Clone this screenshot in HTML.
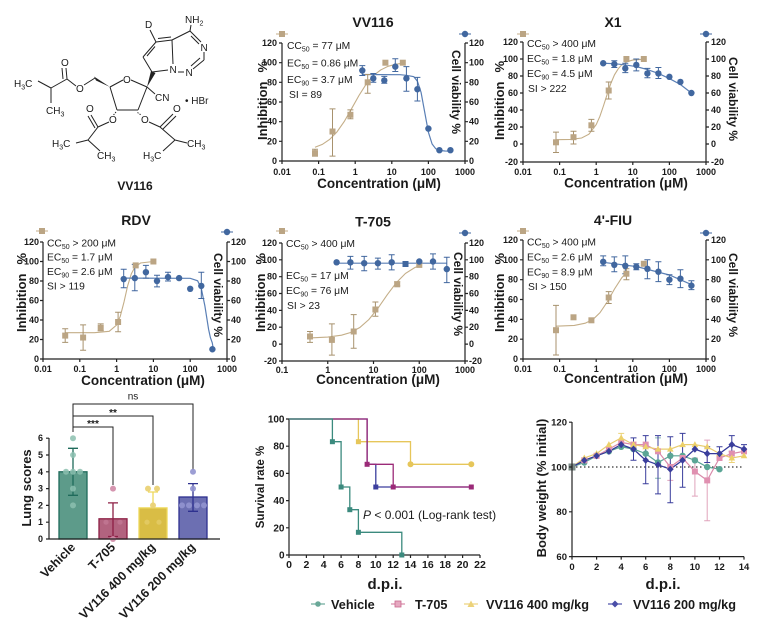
<!DOCTYPE html>
<html><head><meta charset="utf-8">
<style>
html,body{margin:0;padding:0;background:#fff;}
svg{display:block;}
text{font-family:"Liberation Sans",Arial,sans-serif;fill:#1a1a1a;}
.tk{font-size:9px;font-weight:bold;}
.tk2{font-size:10px;font-weight:bold;}
.ttl{font-size:14px;font-weight:bold;}
.lab{font-size:13px;font-weight:bold;}
.cv{font-size:12px;font-weight:bold;}
.con{font-size:13.5px;font-weight:bold;}
.ann{font-size:10.3px;}
.sub{font-size:7px;}
.st{font-size:10px;}
.ax{stroke:#222;stroke-width:1.2;fill:none;}
.tn{stroke:#c4ae88;stroke-width:1.1;fill:none;}
.bl{stroke:#5a7fb5;stroke-width:1.2;fill:none;}
.te{stroke:#a8926e;stroke-width:1;fill:none;}
.be{stroke:#41679f;stroke-width:1;fill:none;}
.bd{stroke:#222;stroke-width:1;fill:none;}
</style></head>
<body>
<svg width="757" height="627" viewBox="0 0 757 627" xmlns="http://www.w3.org/2000/svg">
<defs>
<rect id="sq" x="-3" y="-3" width="6" height="6"/>
<circle id="ci" r="3.2"/>
<path id="tri" d="M0,-3.5L3.3,2.5H-3.3Z"/>
<path id="dia" d="M0,-3.6L3.3,0L0,3.6L-3.3,0Z"/>
</defs>
<rect width="757" height="627" fill="#fff"/>

<!-- ============ Chemical structure ============ -->
<g class="bd">
<path d="M156,42L172,40M156,42L143,57M155,46.5L147,56M143,57L152,72M152,72L168,70M173,64L172,40M158,38.5L171,37"/>
<path d="M172,40L190,31M190,31L201,42M191,36L199,44M204,52V60M204,60L193,69M200,58L191,66M178,72H184M190,31L191,25M156,42L150,30"/>
<path d="M110,87L123,80M131,80L147,87M147,87L138,110M138,110L117,110M117,110L110,87M147,87L155,94"/>
<path d="M116,112L113.5,115M137.5,112.5L141,115" stroke-dasharray="1.3,1.2"/>
<path d="M95,78L84,85M76,86L67,79M67,79L66,68M63,79L62,68M67,79L51,88M51,88L38,81M51,88V103"/>
<path d="M109,122L98,127M98,127L91,115M95,128L88,116M98,127L88,140M88,140L76,143M88,140L100,151"/>
<path d="M149,122L160,127M160,127L173,114M163,129L176,116M160,127L175,140M175,140L187,143M175,140L163,151"/>
</g>
<polygon points="110,87 94,76.5 96,80.5" fill="#222"/>
<polygon points="147,87 151,71 155.5,73" fill="#222"/>
<g class="st">
<text x="145" y="28">D</text>
<text x="185" y="23">NH<tspan class="sub" dy="2.5">2</tspan></text>
<text x="200.5" y="51">N</text>
<text x="169.5" y="73">N</text>
<text x="185.5" y="76">N</text>
<text x="123" y="83">O</text>
<text x="155" y="101">CN</text>
<text x="185" y="104">• HBr</text>
<text x="61" y="66">O</text>
<text x="76" y="92">O</text>
<text x="14" y="87">H<tspan class="sub" dy="2.5">3</tspan><tspan dy="-2.5">C</tspan></text>
<text x="46" y="114">CH<tspan class="sub" dy="2.5">3</tspan></text>
<text x="109" y="123">O</text>
<text x="86" y="112">O</text>
<text x="52" y="147">H<tspan class="sub" dy="2.5">3</tspan><tspan dy="-2.5">C</tspan></text>
<text x="97" y="159">CH<tspan class="sub" dy="2.5">3</tspan></text>
<text x="141" y="123">O</text>
<text x="173" y="112">O</text>
<text x="187" y="147">CH<tspan class="sub" dy="2.5">3</tspan></text>
<text x="143" y="159">H<tspan class="sub" dy="2.5">3</tspan><tspan dy="-2.5">C</tspan></text>
</g>
<text x="135" y="190" text-anchor="middle" style="font-size:12px;font-weight:bold">VV116</text>

<!-- ============ Panel VV116 ============ -->
<text class="ttl" x="373" y="27" text-anchor="middle">VV116</text>
<path class="ax" d="M282,43V161H465V43"/>
<path class="ax" d="M279,161H282M279,141.3H282M279,121.7H282M279,102H282M279,82.3H282M279,62.7H282M279,43H282M465,161H468M465,141.3H468M465,121.7H468M465,102H468M465,82.3H468M465,62.7H468M465,43H468M282,161V164M318.6,161V164M355.2,161V164M391.8,161V164M428.4,161V164M465,161V164"/>
<g class="tk" text-anchor="end"><text x="277" y="164">0</text><text x="277" y="144.3">20</text><text x="277" y="124.7">40</text><text x="277" y="105">60</text><text x="277" y="85.3">80</text><text x="277" y="65.7">100</text><text x="277" y="46">120</text></g>
<g class="tk"><text x="469" y="164">0</text><text x="469" y="144.3">20</text><text x="469" y="124.7">40</text><text x="469" y="105">60</text><text x="469" y="85.3">80</text><text x="469" y="65.7">100</text><text x="469" y="46">120</text></g>
<g class="tk" text-anchor="middle"><text x="282" y="175">0.01</text><text x="318.6" y="175">0.1</text><text x="355.2" y="175">1</text><text x="391.8" y="175">10</text><text x="428.4" y="175">100</text><text x="465" y="175">1000</text></g>
<text class="con" x="379" y="188" text-anchor="middle">Concentration (μM)</text>
<text class="lab" transform="translate(267,140) rotate(-90)">Inhibition<tspan dx="9">%</tspan></text>
<text class="cv" transform="translate(452,50) rotate(90)">Cell viability %</text>
<path d="M276,34H288" stroke="#c4ae88" stroke-width="1"/><use href="#sq" x="282" y="34" fill="#bba584"/>
<path d="M459,34H471" stroke="#41679f" stroke-width="1"/><use href="#ci" x="465" y="34" fill="#41679f"/>
<g class="ann">
<text x="287" y="49">CC<tspan class="sub" dy="2.5">50</tspan><tspan dy="-2.5"> = 77 μM</tspan></text>
<text x="287" y="66.5">EC<tspan class="sub" dy="2.5">50</tspan><tspan dy="-2.5"> = 0.86 μM</tspan></text>
<text x="287" y="83">EC<tspan class="sub" dy="2.5">90</tspan><tspan dy="-2.5"> = 3.7 μM</tspan></text>
<text x="289" y="98">SI = 89</text>
</g>
<polyline class="tn" points="315,147.3 322.3,144.4 329.6,139.5 336.9,132 344.2,121.6 351.5,108.8 358.9,95.6 366.2,84.1 373.5,75.5 380.8,69.9 388.1,66.3 395.5,64.3 402.8,63.2"/>
<polyline class="bl" points="362.2,74.5 400,74.7 406.4,75.3 413.8,76.7 417.4,81.2 421.1,92.5 424.7,112.1 428.4,132.2 432.1,144 435.7,148.7 439.4,150.4 444.9,151 450.4,151.2"/>
<path class="te" d="M315,156.1V149.2M312,156.1h6M312,149.2h6M332.5,156.1V108.9M329.5,156.1h6M329.5,108.9h6M350.4,118.7V109.9M347.4,118.7h6M347.4,109.9h6M367.7,93.2V74.5M364.7,93.2h6M364.7,74.5h6"/>
<path class="be" d="M362.3,75.5V65.6M359.3,75.5h6M359.3,65.6h6M373.3,82.3V73.5M370.3,82.3h6M370.3,73.5h6M384.3,83.3V76.4M381.3,83.3h6M381.3,76.4h6M395.3,71.5V58.7M392.3,71.5h6M392.3,58.7h6M406.4,91.2V66.6M403.4,91.2h6M403.4,66.6h6M417.4,101V77.4M414.4,101h6M414.4,77.4h6"/>
<g fill="#bba584"><use href="#sq" x="315" y="153.1"/><use href="#sq" x="332.5" y="131.5"/><use href="#sq" x="350.4" y="114.8"/><use href="#sq" x="367.7" y="82.3"/><use href="#sq" x="385.4" y="62.7"/><use href="#sq" x="402.8" y="62.7"/></g>
<g fill="#41679f"><use href="#ci" x="362.3" y="70.5"/><use href="#ci" x="373.3" y="78.4"/><use href="#ci" x="384.3" y="80.4"/><use href="#ci" x="395.3" y="66.6"/><use href="#ci" x="406.4" y="78.4"/><use href="#ci" x="417.4" y="89.2"/><use href="#ci" x="428.4" y="128.6"/><use href="#ci" x="439.4" y="150.2"/><use href="#ci" x="450.4" y="150.2"/></g>

<!-- ============ Panel X1 ============ -->
<text class="ttl" x="613" y="27" text-anchor="middle">X1</text>
<path class="ax" d="M523,42V162H706V42"/>
<path class="ax" d="M520,162H523M520,144H523M520,127H523M520,110H523M520,93H523M520,76H523M520,59H523M520,42H523M706,162H709M706,144H709M706,127H709M706,110H709M706,93H709M706,76H709M706,59H709M706,42H709M523,162V165M559.6,162V165M596.2,162V165M632.8,162V165M669.4,162V165M706,162V165"/>
<g class="tk" text-anchor="end"><text x="518" y="165">-20</text><text x="518" y="147">0</text><text x="518" y="130">20</text><text x="518" y="113">40</text><text x="518" y="96">60</text><text x="518" y="79">80</text><text x="518" y="62">100</text><text x="518" y="45">120</text></g>
<g class="tk"><text x="711" y="165">-20</text><text x="711" y="147">0</text><text x="711" y="130">20</text><text x="711" y="113">40</text><text x="711" y="96">60</text><text x="711" y="79">80</text><text x="711" y="62">100</text><text x="711" y="45">120</text></g>
<g class="tk" text-anchor="middle"><text x="523" y="175">0.01</text><text x="559.6" y="175">0.1</text><text x="596.2" y="175">1</text><text x="632.8" y="175">10</text><text x="669.4" y="175">100</text><text x="706" y="175">1000</text></g>
<text class="con" x="626" y="187.5" text-anchor="middle">Concentration (μM)</text>
<text class="lab" transform="translate(504,140) rotate(-90)">Inhibition<tspan dx="9">%</tspan></text>
<text class="cv" transform="translate(729,57) rotate(90)">Cell viability %</text>
<path d="M517,34H529" stroke="#c4ae88" stroke-width="1"/><use href="#sq" x="523" y="34" fill="#bba584"/>
<path d="M700,34H712" stroke="#41679f" stroke-width="1"/><use href="#ci" x="706" y="34" fill="#41679f"/>
<g class="ann">
<text x="527" y="47">CC<tspan class="sub" dy="2.5">50</tspan><tspan dy="-2.5"> &gt; 400 μM</tspan></text>
<text x="527" y="62">EC<tspan class="sub" dy="2.5">50</tspan><tspan dy="-2.5"> = 1.8 μM</tspan></text>
<text x="527" y="77">EC<tspan class="sub" dy="2.5">90</tspan><tspan dy="-2.5"> = 4.5 μM</tspan></text>
<text x="528" y="92">SI &gt; 222</text>
</g>
<polyline class="tn" points="556,139.7 570.6,139.4 581.6,138 588.9,134.2 596.2,124.6 599.9,116.3 603.5,105.75 607.2,94.2 610.8,83.5 614.5,74.8 618.2,68.8 621.8,64.8 627.3,61.55 632.8,60.1 643.8,59.2"/>
<polyline class="bl" points="603.2,63.25 614.5,63.7 625.5,64.95 636.5,66.65 647.4,69.6 658.4,73.45 669.4,78.55 680.4,84.5 691.4,93"/>
<path class="te" d="M556,152.5V132.1M553,152.5h6M553,132.1h6M573.5,144V131.3M570.5,144h6M570.5,131.3h6M591.4,131.3V119.4M588.4,131.3h6M588.4,119.4h6M608.7,99V82M605.7,99h6M605.7,82h6"/>
<path class="be" d="M614.3,67.5V60.7M611.3,67.5h6M611.3,60.7h6M625.3,72.6V63.25M622.3,72.6h6M622.3,63.25h6M636.3,70.9V59M633.3,70.9h6M633.3,59h6M647.4,77.7V68.35M644.4,77.7h6M644.4,68.35h6M658.4,78.55V67.5M655.4,78.55h6M655.4,67.5h6"/>
<g fill="#bba584"><use href="#sq" x="556" y="142.3"/><use href="#sq" x="573.5" y="137.2"/><use href="#sq" x="591.4" y="125.3"/><use href="#sq" x="608.7" y="90.5"/><use href="#sq" x="626.4" y="59"/><use href="#sq" x="643.8" y="59"/></g>
<g fill="#41679f"><use href="#ci" x="603.2" y="63.25"/><use href="#ci" x="614.3" y="64.1"/><use href="#ci" x="625.3" y="68.35"/><use href="#ci" x="636.3" y="64.95"/><use href="#ci" x="647.4" y="73.45"/><use href="#ci" x="658.4" y="73.45"/><use href="#ci" x="669.4" y="76.85"/><use href="#ci" x="680.4" y="81.95"/><use href="#ci" x="691.4" y="93"/></g>

<!-- ============ Panel RDV ============ -->
<text class="ttl" x="136" y="225" text-anchor="middle">RDV</text>
<path class="ax" d="M43,242V359H227V242"/>
<path class="ax" d="M40,359H43M40,339.5H43M40,320H43M40,300.5H43M40,281H43M40,261.5H43M40,242H43M227,359H230M227,339.5H230M227,320H230M227,300.5H230M227,281H230M227,261.5H230M227,242H230M43,359V362M79.8,359V362M116.6,359V362M153.4,359V362M190.2,359V362M227,359V362"/>
<g class="tk" text-anchor="end"><text x="39" y="362">0</text><text x="39" y="342.5">20</text><text x="39" y="323">40</text><text x="39" y="303.5">60</text><text x="39" y="284">80</text><text x="39" y="264.5">100</text><text x="39" y="245">120</text></g>
<g class="tk"><text x="231" y="362">0</text><text x="231" y="342.5">20</text><text x="231" y="323">40</text><text x="231" y="303.5">60</text><text x="231" y="284">80</text><text x="231" y="264.5">100</text><text x="231" y="245">120</text></g>
<g class="tk" text-anchor="middle"><text x="43" y="372">0.01</text><text x="79.8" y="372">0.1</text><text x="116.6" y="372">1</text><text x="153.4" y="372">10</text><text x="190.2" y="372">100</text><text x="227" y="372">1000</text></g>
<text class="con" x="143" y="385" text-anchor="middle">Concentration (μM)</text>
<text class="lab" transform="translate(26,332) rotate(-90)">Inhibition<tspan dx="9">%</tspan></text>
<text class="cv" transform="translate(214,253) rotate(90)">Cell viability %</text>
<path d="M36,231H48" stroke="#c4ae88" stroke-width="1"/><use href="#sq" x="42" y="231" fill="#bba584"/>
<path d="M221,232H233" stroke="#41679f" stroke-width="1"/><use href="#ci" x="227" y="232" fill="#41679f"/>
<g class="ann">
<text x="47" y="246.5">CC<tspan class="sub" dy="2.5">50</tspan><tspan dy="-2.5"> &gt; 200 μM</tspan></text>
<text x="47" y="260.5">EC<tspan class="sub" dy="2.5">50</tspan><tspan dy="-2.5"> = 1.7 μM</tspan></text>
<text x="47" y="275">EC<tspan class="sub" dy="2.5">90</tspan><tspan dy="-2.5"> = 2.6 μM</tspan></text>
<text x="47" y="289.5">SI &gt; 119</text>
</g>
<polyline class="tn" points="65.1,332.7 94.5,332.7 109.2,331.3 116.6,325.1 120.3,316.2 124,302 127.6,286 131.3,273.8 135,267 140.5,263 153.4,261.5"/>
<polyline class="bl" points="123.6,278.1 190.2,278.3 197.6,280.8 201.2,288 204.9,306 208.6,329.4 210.4,337.6 212.3,342.9 213,347.3"/>
<path class="te" d="M65.2,342.4V328.8M62.2,342.4h6M62.2,328.8h6M83.1,350.2V324.9M80.1,350.2h6M80.1,324.9h6M100.7,330.7V323.9M97.7,330.7h6M97.7,323.9h6M118.1,331.7V312.2M115.1,331.7h6M115.1,312.2h6"/>
<path class="be" d="M123.7,287.8V269.3M120.7,287.8h6M120.7,269.3h6M134.8,290.75V264.4M131.8,290.75h6M131.8,264.4h6M145.9,278.1V265.4M142.9,278.1h6M142.9,265.4h6M157,286.9V275.2M154,286.9h6M154,275.2h6M168,281V272.2M165,281h6M165,272.2h6M201.3,298.55V272.2M198.3,298.55h6M198.3,272.2h6"/>
<g fill="#bba584"><use href="#sq" x="65.2" y="335.6"/><use href="#sq" x="83.1" y="337.55"/><use href="#sq" x="100.7" y="327.8"/><use href="#sq" x="118.1" y="322"/><use href="#sq" x="135.7" y="265.4"/><use href="#sq" x="153.4" y="261.5"/></g>
<g fill="#41679f"><use href="#ci" x="123.7" y="279.05"/><use href="#ci" x="134.8" y="278.1"/><use href="#ci" x="145.9" y="272.2"/><use href="#ci" x="157" y="281"/><use href="#ci" x="168" y="277.1"/><use href="#ci" x="179.1" y="278.1"/><use href="#ci" x="190.2" y="288.8"/><use href="#ci" x="201.3" y="285.9"/><use href="#ci" x="212.4" y="349.25"/></g>

<!-- ============ Panel T-705 ============ -->
<text class="ttl" x="373" y="226.5" text-anchor="middle">T-705</text>
<path class="ax" d="M282,243V361H465V243"/>
<path class="ax" d="M279,361H282M279,344.1H282M279,327.2H282M279,310.4H282M279,293.5H282M279,276.7H282M279,259.8H282M279,243H282M465,361H468M465,344.1H468M465,327.2H468M465,310.4H468M465,293.5H468M465,276.7H468M465,259.8H468M465,243H468M282,361V364M327.75,361V364M373.5,361V364M419.25,361V364M465,361V364"/>
<g class="tk" text-anchor="end"><text x="277" y="364">-20</text><text x="277" y="347.1">0</text><text x="277" y="330.2">20</text><text x="277" y="313.4">40</text><text x="277" y="296.5">60</text><text x="277" y="279.7">80</text><text x="277" y="262.8">100</text><text x="277" y="246">120</text></g>
<g class="tk"><text x="469" y="364">-20</text><text x="469" y="347.1">0</text><text x="469" y="330.2">20</text><text x="469" y="313.4">40</text><text x="469" y="296.5">60</text><text x="469" y="279.7">80</text><text x="469" y="262.8">100</text><text x="469" y="246">120</text></g>
<g class="tk" text-anchor="middle"><text x="282" y="373">0.1</text><text x="327.75" y="373">1</text><text x="373.5" y="373">10</text><text x="419.25" y="373">100</text><text x="465" y="373">1000</text></g>
<text class="con" x="378" y="384" text-anchor="middle">Concentration (μM)</text>
<text class="lab" transform="translate(265,332) rotate(-90)">Inhibition<tspan dx="9">%</tspan></text>
<text class="cv" transform="translate(454,252) rotate(90)">Cell viability %</text>
<path d="M276,231H288" stroke="#c4ae88" stroke-width="1"/><use href="#sq" x="282" y="231" fill="#bba584"/>
<path d="M459,233H471" stroke="#41679f" stroke-width="1"/><use href="#ci" x="465" y="233" fill="#41679f"/>
<g class="ann">
<text x="286" y="247">CC<tspan class="sub" dy="2.5">50</tspan><tspan dy="-2.5"> &gt; 400 μM</tspan></text>
<text x="286" y="279">EC<tspan class="sub" dy="2.5">50</tspan><tspan dy="-2.5"> = 17 μM</tspan></text>
<text x="286" y="294">EC<tspan class="sub" dy="2.5">90</tspan><tspan dy="-2.5"> = 76 μM</tspan></text>
<text x="287" y="309">SI &gt; 23</text>
</g>
<polyline class="tn" points="309.9,337.9 327.75,337.1 341.5,335.2 350.6,332.5 359.8,327.5 368.9,319.5 378.1,308 387.2,294.8 396.4,282.6 405.5,273.4 414.7,267.6 419.25,265.7"/>
<path class="bl" d="M336.6,263.2H446.8"/>
<path class="te" d="M310,342.4V331.5M307,342.4h6M307,331.5h6M331.9,355.1V323.9M328.9,355.1h6M328.9,323.9h6M353.7,348.3V314.6M350.7,348.3h6M350.7,314.6h6M375.4,316.3V302M372.4,316.3h6M372.4,302h6M397.2,285.9V281.7M394.2,285.9h6M394.2,281.7h6"/>
<path class="be" d="M350.4,269.1V256.4M347.4,269.1h6M347.4,256.4h6M364.2,270.8V256.4M361.2,270.8h6M361.2,256.4h6M377.9,269.1V258.1M374.9,269.1h6M374.9,258.1h6M391.7,269.9V254.7M388.7,269.9h6M388.7,254.7h6M433,269.1V253.9M430,269.1h6M430,253.9h6M446.8,282.6V257.3M443.8,282.6h6M443.8,257.3h6"/>
<g fill="#bba584"><use href="#sq" x="310" y="336.5"/><use href="#sq" x="331.9" y="339.9"/><use href="#sq" x="353.7" y="331.5"/><use href="#sq" x="375.4" y="309.5"/><use href="#sq" x="397.2" y="284.3"/><use href="#sq" x="419.3" y="264.9"/></g>
<g fill="#41679f"><use href="#ci" x="336.6" y="262.3"/><use href="#ci" x="350.4" y="262.3"/><use href="#ci" x="364.2" y="263.2"/><use href="#ci" x="377.9" y="263.2"/><use href="#ci" x="391.7" y="262.3"/><use href="#sq" x="405.5" y="264"/><use href="#ci" x="419.3" y="261.5"/><use href="#ci" x="433" y="261.5"/><use href="#ci" x="446.8" y="269.1"/></g>

<!-- ============ Panel 4'-FIU ============ -->
<text class="ttl" x="613" y="225" text-anchor="middle">4'-FIU</text>
<path class="ax" d="M523,240V359H706V240"/>
<path class="ax" d="M520,359H523M520,339.2H523M520,319.3H523M520,299.5H523M520,279.7H523M520,259.8H523M520,240H523M706,359H709M706,339.2H709M706,319.3H709M706,299.5H709M706,279.7H709M706,259.8H709M706,240H709M523,359V362M559.6,359V362M596.2,359V362M632.8,359V362M669.4,359V362M706,359V362"/>
<g class="tk" text-anchor="end"><text x="518" y="362">0</text><text x="518" y="342.2">20</text><text x="518" y="322.3">40</text><text x="518" y="302.5">60</text><text x="518" y="282.7">80</text><text x="518" y="262.8">100</text><text x="518" y="243">120</text></g>
<g class="tk"><text x="711" y="362">0</text><text x="711" y="342.2">20</text><text x="711" y="322.3">40</text><text x="711" y="302.5">60</text><text x="711" y="282.7">80</text><text x="711" y="262.8">100</text><text x="711" y="243">120</text></g>
<g class="tk" text-anchor="middle"><text x="523" y="372">0.01</text><text x="559.6" y="372">0.1</text><text x="596.2" y="372">1</text><text x="632.8" y="372">10</text><text x="669.4" y="372">100</text><text x="706" y="372">1000</text></g>
<text class="con" x="626" y="383" text-anchor="middle">Concentration (μM)</text>
<text class="lab" transform="translate(504,332) rotate(-90)">Inhibition<tspan dx="9">%</tspan></text>
<text class="cv" transform="translate(729,253) rotate(90)">Cell viability %</text>
<path d="M517,231H529" stroke="#c4ae88" stroke-width="1"/><use href="#sq" x="523" y="231" fill="#bba584"/>
<path d="M700,233H712" stroke="#41679f" stroke-width="1"/><use href="#ci" x="706" y="233" fill="#41679f"/>
<g class="ann">
<text x="527" y="245.5">CC<tspan class="sub" dy="2.5">50</tspan><tspan dy="-2.5"> &gt; 400 μM</tspan></text>
<text x="527" y="260.5">EC<tspan class="sub" dy="2.5">50</tspan><tspan dy="-2.5"> = 2.6 μM</tspan></text>
<text x="527" y="275.5">EC<tspan class="sub" dy="2.5">90</tspan><tspan dy="-2.5"> = 8.9 μM</tspan></text>
<text x="528" y="290">SI &gt; 150</text>
</g>
<polyline class="tn" points="556,326.2 574.3,325.4 585.2,323.2 592.9,319.5 599.9,312.8 607.2,302 614.5,289 621.8,277.7 627.3,271.7"/>
<polyline class="bl" points="603.2,262.3 636.3,266.5 669.4,275 691.4,284.6"/>
<path class="te" d="M556,355V305.4M553,355h6M553,305.4h6M608.7,303.5V291.6M605.7,303.5h6M605.7,291.6h6M626.4,279.7V268.8M623.4,279.7h6M623.4,268.8h6"/>
<path class="be" d="M603.2,265.8V255.9M600.2,265.8h6M600.2,255.9h6M614.3,271.7V256.9M611.3,271.7h6M611.3,256.9h6M625.3,273.7V255.9M622.3,273.7h6M622.3,255.9h6M636.3,269.7V263.8M633.3,269.7h6M633.3,263.8h6M647.4,278.7V259.8M644.4,278.7h6M644.4,259.8h6M658.4,281.6V261.8M655.4,281.6h6M655.4,261.8h6M669.4,284.6V274.7M666.4,284.6h6M666.4,274.7h6M680.4,287.6V269.7M677.4,287.6h6M677.4,269.7h6M691.4,289.6V280.7M688.4,289.6h6M688.4,280.7h6"/>
<g fill="#bba584"><use href="#sq" x="556" y="330.2"/><use href="#sq" x="573.5" y="317.3"/><use href="#sq" x="591.4" y="320.3"/><use href="#sq" x="608.7" y="297.5"/><use href="#sq" x="626.4" y="273.7"/><use href="#sq" x="643.8" y="263.8"/></g>
<g fill="#41679f"><use href="#ci" x="603.2" y="261.8"/><use href="#ci" x="614.3" y="264.8"/><use href="#ci" x="625.3" y="265.8"/><use href="#ci" x="636.3" y="266.8"/><use href="#ci" x="647.4" y="268.8"/><use href="#ci" x="658.4" y="271.7"/><use href="#ci" x="669.4" y="279.7"/><use href="#ci" x="680.4" y="278.7"/><use href="#ci" x="691.4" y="285.6"/></g>

<!-- ============ Lung scores ============ -->
<path class="bd" d="M73,432V404H193V470M73,416H153V485M73,427H113V485" stroke="#333"/>
<text x="133" y="399.5" text-anchor="middle" style="font-size:10px">ns</text>
<text x="113" y="416" text-anchor="middle" style="font-size:10px;font-weight:bold">**</text>
<text x="93" y="427" text-anchor="middle" style="font-size:10px;font-weight:bold">***</text>
<rect x="59" y="471.8" width="28" height="67.2" fill="#5d9b8a" stroke="#1f6b5b" stroke-width="1.3"/>
<rect x="99" y="518.8" width="28" height="20.2" fill="#b2637f" stroke="#8d1f45" stroke-width="1.3"/>
<rect x="139" y="507.9" width="28" height="31.1" fill="#d9bd45" stroke="#eed85a" stroke-width="1.3"/>
<rect x="179" y="497" width="28" height="42" fill="#6c6fb2" stroke="#2e318f" stroke-width="1.3"/>
<path d="M73,495.3V448.3M68,448.3H78M68,495.3H78" stroke="#1f6b5b" stroke-width="1.3" fill="none"/>
<path d="M113,536.5V502.9M108,502.9H118M108,536.5H118" stroke="#8d1f45" stroke-width="1.3" fill="none"/>
<path d="M153,507.9V492M148,492H158" stroke="#eed85a" stroke-width="1.3" fill="none"/>
<path d="M193,511.3V483.6M188,483.6H198M188,511.3H198" stroke="#2e318f" stroke-width="1.3" fill="none"/>
<g fill="#8cc0b0" opacity="0.85"><circle cx="73" cy="438.2" r="3"/><circle cx="73" cy="455" r="3"/><circle cx="66" cy="471.8" r="3"/><circle cx="73" cy="471.8" r="3"/><circle cx="80" cy="471.8" r="3"/><circle cx="73" cy="488.6" r="3"/><circle cx="73" cy="505.4" r="3"/></g>
<g fill="#d08aa6" opacity="0.9"><circle cx="113" cy="488.6" r="3"/><circle cx="113" cy="539" r="3"/><circle cx="106" cy="522.2" r="2.6" opacity="0.5"/><circle cx="120" cy="522.2" r="2.6" opacity="0.5"/></g>
<g fill="#ead277" opacity="0.95"><circle cx="148" cy="488.6" r="3"/><circle cx="157" cy="488.6" r="3"/><circle cx="153" cy="505.4" r="3"/><circle cx="147" cy="522.2" r="2.6" opacity="0.6"/><circle cx="159" cy="522.2" r="2.6" opacity="0.6"/></g>
<g fill="#9294d0" opacity="0.9"><circle cx="193" cy="471.8" r="3"/><circle cx="193" cy="488.6" r="3"/><circle cx="182" cy="505.4" r="3"/><circle cx="189" cy="505.4" r="3"/><circle cx="197" cy="505.4" r="3"/><circle cx="204" cy="505.4" r="3"/></g>
<path class="ax" d="M49,438V539H220M46,539H49M46,522.2H49M46,505.4H49M46,488.6H49M46,471.8H49M46,455H49M46,438.2H49"/>
<g class="tk" text-anchor="end"><text x="43" y="542">0</text><text x="43" y="525.2">1</text><text x="43" y="508.4">2</text><text x="43" y="491.6">3</text><text x="43" y="474.8">4</text><text x="43" y="458">5</text><text x="43" y="441.2">6</text></g>
<text class="lab" transform="translate(31,488) rotate(-90)" text-anchor="middle">Lung scores</text>
<g style="font-size:12.5px;font-weight:bold" text-anchor="end">
<text transform="translate(76,548) rotate(-45)">Vehicle</text>
<text transform="translate(116,548) rotate(-45)">T-705</text>
<text transform="translate(156,548) rotate(-45)">VV116 400 mg/kg</text>
<text transform="translate(196,548) rotate(-45)">VV116 200 mg/kg</text>
</g>

<!-- ============ Survival ============ -->
<path class="ax" d="M289,419V555H480M286,555H289M286,527.8H289M286,500.6H289M286,473.4H289M286,446.2H289M286,419H289M289,555V558M306.4,555V558M323.7,555V558M341.1,555V558M358.4,555V558M375.8,555V558M393.2,555V558M410.5,555V558M427.9,555V558M445.2,555V558M462.6,555V558M480,555V558"/>
<g class="tk2" text-anchor="end"><text x="284.5" y="558.5">0</text><text x="284.5" y="531.3">20</text><text x="284.5" y="504.1">40</text><text x="284.5" y="476.9">60</text><text x="284.5" y="449.7">80</text><text x="284.5" y="422.5">100</text></g>
<g class="tk2" text-anchor="middle" style="font-size:10.5px"><text x="289" y="568">0</text><text x="306.4" y="568">2</text><text x="323.7" y="568">4</text><text x="341.1" y="568">6</text><text x="358.4" y="568">8</text><text x="375.8" y="568">10</text><text x="393.2" y="568">12</text><text x="410.5" y="568">14</text><text x="427.9" y="568">16</text><text x="445.2" y="568">18</text><text x="462.6" y="568">20</text><text x="480" y="568">22</text></g>
<text transform="translate(264,487) rotate(-90)" text-anchor="middle" style="font-size:11.5px;font-weight:bold">Survival rate %</text>
<text x="385" y="589" text-anchor="middle" style="font-size:15px;font-weight:bold">d.p.i.</text>
<text x="363" y="519" style="font-size:12px"><tspan font-style="italic">P</tspan> &lt; 0.001 (Log-rank test)</text>
<path d="M289,419H358.4V441.7H410.5V464.3H471.3" stroke="#e6c65a" stroke-width="1.3" fill="none"/>
<path d="M289,419H367.1V464.3H375.8V487H471.3" stroke="#3c3f9e" stroke-width="1.3" fill="none"/>
<path d="M289,419H367.1V464.3H393.2V487H471.3" stroke="#9b2a78" stroke-width="1.3" fill="none"/>
<path d="M289,419H332.4V441.7H341.1V487H349.8V509.7H358.4V532.3H401.8V555" stroke="#3b8a7e" stroke-width="1.3" fill="none"/>
<g fill="#e6c65a"><rect x="355.9" y="439.2" width="5" height="5"/><circle cx="410.5" cy="464.3" r="3"/><circle cx="471.3" cy="464.3" r="3"/></g>
<g fill="#3c3f9e"><rect x="373.3" y="484.5" width="5" height="5"/></g>
<g fill="#9b2a78"><rect x="364.6" y="461.8" width="5" height="5"/><rect x="390.7" y="484.5" width="5" height="5"/><rect x="468.8" y="484.5" width="5" height="5"/></g>
<g fill="#3b8a7e"><rect x="329.9" y="439.2" width="5" height="5"/><rect x="338.6" y="484.5" width="5" height="5"/><rect x="347.3" y="507.2" width="5" height="5"/><rect x="355.9" y="529.8" width="5" height="5"/><rect x="399.3" y="552.5" width="5" height="5"/></g>

<!-- ============ Body weight ============ -->
<path d="M572,467H744" stroke="#333" stroke-width="1.2" stroke-dasharray="1.5,2.5"/>
<g fill="none" stroke-width="1">
<path d="M658,478.2V437.9M655,478.2h6M655,437.9h6" stroke="#8cc0b0"/>
<path d="M670.3,480.4V462.5M667.3,480.4h6M694.9,496.1V458M691.9,496.1h6M691.9,458h6M707.2,520.8V440.1M704.2,520.8h6M704.2,440.1h6" stroke="#e0a4bc"/>
<path d="M621.2,442.4V433.4M618.2,433.4h6M731.8,462.5V453.6M728.8,462.5h6" stroke="#ecd27a"/>
<path d="M633.5,460.3V437.9M630.5,460.3h6M630.5,437.9h6M645.7,483.8V435.6M642.7,483.8h6M642.7,435.6h6M658,493.9V435.6M655,493.9h6M655,435.6h6M670.3,502.8V436.8M667.3,502.8h6M667.3,436.8h6M682.6,487.2V433.4M679.6,487.2h6M679.6,433.4h6M707.2,462.5V446.8M704.2,462.5h6M704.2,446.8h6M731.8,451.3V435.6M728.8,451.3h6M728.8,435.6h6M744,453.6V444.6M741,444.6h6M719.5,458V446.8M716.5,446.8h6" stroke="#3a3e9c"/>
</g>
<polyline fill="none" stroke="#5aa595" stroke-width="1.2" points="572,467 584.3,462.5 596.6,455.8 608.9,451.3 621.2,446.8 633.5,449.1 645.7,453.6 658,462.5 670.3,455.8 682.6,455.8 694.9,460.3 707.2,467 719.5,469.2"/>
<polyline fill="none" stroke="#d98aaa" stroke-width="1.2" points="572,467 584.3,460.3 596.6,455.8 608.9,449.1 621.2,442.4 633.5,444.6 645.7,444.6 658,451.3 670.3,467 682.6,458 694.9,471.5 707.2,480.4 719.5,458 731.8,453.6 744,451.3"/>
<polyline fill="none" stroke="#e8cc70" stroke-width="1.2" points="572,467 584.3,458 596.6,453.6 608.9,444.6 621.2,437.9 633.5,444.6 645.7,446.8 658,449.1 670.3,449.1 682.6,444.6 694.9,444.6 707.2,446.8 719.5,453.6 731.8,458 744,455.8"/>
<polyline fill="none" stroke="#34389a" stroke-width="1.3" points="572,467 584.3,460.3 596.6,455.8 608.9,451.3 621.2,444.6 633.5,449.1 645.7,460.3 658,464.8 670.3,469.2 682.6,460.3 694.9,449.1 707.2,453.6 719.5,453.6 731.8,444.6 744,449.1"/>
<g fill="#5aa595"><use href="#ci" x="584.3" y="462.5"/><use href="#ci" x="596.6" y="455.8"/><use href="#ci" x="608.9" y="451.3"/><use href="#ci" x="621.2" y="446.8"/><use href="#ci" x="633.5" y="449.1"/><use href="#ci" x="645.7" y="453.6"/><use href="#ci" x="658" y="462.5"/><use href="#ci" x="670.3" y="455.8"/><use href="#ci" x="682.6" y="455.8"/><use href="#ci" x="694.9" y="460.3"/><use href="#ci" x="707.2" y="467"/><use href="#ci" x="719.5" y="469.2"/></g>
<g fill="#e090b0"><use href="#sq" x="584.3" y="460.3"/><use href="#sq" x="596.6" y="455.8"/><use href="#sq" x="608.9" y="449.1"/><use href="#sq" x="621.2" y="442.4"/><use href="#sq" x="633.5" y="444.6"/><use href="#sq" x="645.7" y="444.6"/><use href="#sq" x="658" y="451.3"/><use href="#sq" x="670.3" y="467"/><use href="#sq" x="682.6" y="458"/><use href="#sq" x="694.9" y="471.5"/><use href="#sq" x="707.2" y="480.4"/><use href="#sq" x="719.5" y="458"/><use href="#sq" x="731.8" y="453.6"/><use href="#sq" x="744" y="451.3"/></g>
<g fill="#ecd06a"><use href="#tri" x="584.3" y="458"/><use href="#tri" x="596.6" y="453.6"/><use href="#tri" x="608.9" y="444.6"/><use href="#tri" x="621.2" y="437.9"/><use href="#tri" x="633.5" y="444.6"/><use href="#tri" x="645.7" y="446.8"/><use href="#tri" x="658" y="449.1"/><use href="#tri" x="670.3" y="449.1"/><use href="#tri" x="682.6" y="444.6"/><use href="#tri" x="694.9" y="444.6"/><use href="#tri" x="707.2" y="446.8"/><use href="#tri" x="719.5" y="453.6"/><use href="#tri" x="731.8" y="458"/><use href="#tri" x="744" y="455.8"/></g>
<g fill="#3a3e9c"><use href="#dia" x="584.3" y="460.3"/><use href="#dia" x="596.6" y="455.8"/><use href="#dia" x="608.9" y="451.3"/><use href="#dia" x="621.2" y="444.6"/><use href="#dia" x="633.5" y="449.1"/><use href="#dia" x="645.7" y="460.3"/><use href="#dia" x="658" y="464.8"/><use href="#dia" x="670.3" y="469.2"/><use href="#dia" x="682.6" y="460.3"/><use href="#dia" x="694.9" y="449.1"/><use href="#dia" x="707.2" y="453.6"/><use href="#dia" x="719.5" y="453.6"/><use href="#dia" x="731.8" y="444.6"/><use href="#dia" x="744" y="449.1"/></g>
<rect x="568.5" y="463.5" width="7" height="7" fill="#7a8a86"/>
<path class="ax" d="M572,422V556.6H744M569,556.6H572M569,511.8H572M569,467H572M569,422.2H572M572,556.6V559.6M596.6,556.6V559.6M621.2,556.6V559.6M645.7,556.6V559.6M670.3,556.6V559.6M694.9,556.6V559.6M719.5,556.6V559.6M744,556.6V559.6"/>
<g class="tk" style="font-size:9.5px" text-anchor="end"><text x="567" y="560">60</text><text x="567" y="515">80</text><text x="567" y="470.3">100</text><text x="567" y="425.5">120</text></g>
<g class="tk" style="font-size:9.5px" text-anchor="middle"><text x="572" y="570">0</text><text x="596.6" y="570">2</text><text x="621.2" y="570">4</text><text x="645.7" y="570">6</text><text x="670.3" y="570">8</text><text x="694.9" y="570">10</text><text x="719.5" y="570">12</text><text x="744" y="570">14</text></g>
<text class="lab" transform="translate(546,488) rotate(-90)" text-anchor="middle">Body weight (% initial)</text>
<text x="663" y="589" text-anchor="middle" style="font-size:15px;font-weight:bold">d.p.i.</text>

<!-- ============ Legend ============ -->
<path d="M311,604H325" stroke="#6aa898" stroke-width="1.2"/><circle cx="318" cy="604" r="2.8" fill="#6aa898"/>
<path d="M391,604H405" stroke="#d88aa8" stroke-width="1.2"/><rect x="395" y="601" width="6" height="6" fill="#e6a8c0" stroke="#c8688c" stroke-width="0.8"/>
<path d="M464,604H478" stroke="#ecd27a" stroke-width="1.2"/><path d="M471,600.5L474.5,607H467.5Z" fill="#ecd27a"/>
<path d="M608,604H622" stroke="#4a4ea8" stroke-width="1.2"/><path d="M615,600.5L618.5,604L615,607.5L611.5,604Z" fill="#4a4ea8"/>
<g style="font-size:12.7px;font-weight:bold">
<text x="331" y="608.8">Vehicle</text>
<text x="415" y="608.8">T-705</text>
<text x="486" y="608.8">VV116 400 mg/kg</text>
<text x="633" y="608.8">VV116 200 mg/kg</text>
</g>
</svg>
</body></html>
